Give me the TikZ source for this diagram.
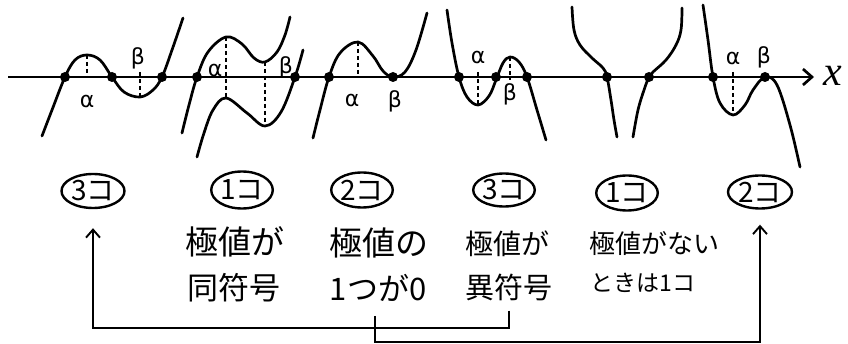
\documentclass[tikz,border=0pt]{standalone}
\usepackage{fontspec}
\newfontfamily\jp{Noto Sans CJK JP}
\newfontfamily\gk{DejaVu Sans}
\newfontfamily\xf{Liberation Serif}
\usetikzlibrary{arrows.meta,shapes.geometric}
\begin{document}
\begin{tikzpicture}[x=1pt,y=-1pt,
 curve/.style={line width=2.7pt, line cap=round, line join=round},
 dashln/.style={line width=1.8pt, dash pattern=on 4pt off 3pt},
 dot/.style={circle, fill=black, inner sep=0pt, minimum size=10pt},
 gl/.style={font=\gk\fontsize{22}{22}\selectfont, inner sep=0pt},
 cnt/.style={ellipse, draw, line width=2.4pt, inner sep=0pt, font=\jp\fontsize{28}{28}\selectfont},
 lbl/.style={font=\jp\fontsize{#1}{#1}\selectfont, inner sep=0pt},
 conn/.style={line width=1.9pt},
 arr/.style={conn, -{Straight Barb[length=8pt,width=14pt]}}]
\useasboundingbox (0,0) rectangle (848,344);

% axis
\coordinate (ax0) at (8,77);
\coordinate (ax1) at (814,77);
\draw[line width=2.7pt, -{Straight Barb[length=9pt,width=16pt]}] (ax0) -- (ax1);
\node[font=\xf\itshape\fontsize{42}{42}\selectfont, inner sep=0pt] (xl) at (833,76) {x};

% graph 1
\draw[curve] plot[smooth, tension=0.6] coordinates {(42,136) (52,110) (65,77) (75,60) (87,55) (100,60) (112,77) (124,92) (140,97) (153,90) (162,77) (172,50) (183,18)};
\draw[dashln] (87,55) -- (87,77);
\draw[dashln] (140,72) -- (140,97);
\node[gl] (a1) at (87,101) {α};
\node[gl] (b1) at (138,58) {β};

% graph 2
\draw[curve] plot[smooth, tension=0.6] coordinates {(182,133) (189,105) (197,77) (208,52) (226,37) (242,44) (254,58) (265,62) (277,52) (285,35) (290,17)};
\draw[curve] plot[smooth, tension=0.6] coordinates {(197,157) (204,133) (213,110) (226,98) (247,113) (265,126) (281,112) (295,77) (303,50)};
\draw[dashln] (226,37) -- (226,98);
\draw[dashln] (265,62) -- (265,126);
\node[gl] (a2) at (215,70) {α};
\node[gl] (b2) at (286,67) {β};

% graph 3
\draw[curve] plot[smooth, tension=0.6] coordinates {(313,138) (320,110) (329,77) (340,53) (358,42) (373,56) (383,71) (393,77) (405,72) (416,50) (427,13)};
\draw[dashln] (358,42) -- (358,77);
\node[gl] (a3) at (352,100) {α};
\node[gl] (b3) at (395,101) {β};

% graph 4
\draw[curve] plot[smooth, tension=0.6] coordinates {(447,10) (452,43) (459,77) (467,97) (478,105) (489,96) (496,80) (503,63) (510,57) (519,62) (527,77) (537,110) (546,140)};
\draw[dashln] (478,72) -- (478,105);
\draw[dashln] (510,57) -- (510,80);
\node[gl] (a4) at (478,57) {α};
\node[gl] (b4) at (510,94) {β};

% graph 5
\draw[curve] plot[smooth, tension=0.6] coordinates {(572,7) (574,30) (580,45) (592,58) (603,68) (607,77) (611,100) (614,120) (617,137)};
\draw[curve] plot[smooth, tension=0.6] coordinates {(682,8) (681,30) (676,45) (666,60) (653,72) (649,77) (644,90) (638,110) (633,137)};

% graph 6
\draw[curve] plot[smooth, tension=0.6] coordinates {(703,5) (708,40) (713,77) (720,103) (733,115) (745,105) (753,90) (765,77) (777,85) (790,125) (800,167)};
\draw[dashln] (733,72) -- (733,115);
\node[gl] (a6) at (733,58) {α};
\node[gl] (b6) at (764,57) {β};

% dots
\foreach \px in {65,112,162,197,295,329,393,459,496,527,607,649,713,765}
  \node[dot] at (\px,77) {};

% counts
\node[cnt, minimum width=63pt, minimum height=34pt] (c1) at (93,191) {3コ};
\node[cnt, minimum width=56pt, minimum height=37pt] (c2) at (242,190) {1コ};
\node[cnt, minimum width=60pt, minimum height=35pt] (c3) at (362,190) {2コ};
\node[cnt, minimum width=60pt, minimum height=33pt] (c4) at (504,190) {3コ};
\node[cnt, minimum width=55pt, minimum height=35pt] (c5) at (627,193) {1コ};
\node[cnt, minimum width=64pt, minimum height=33pt] (c6) at (760,192) {2コ};

% texts
\node[lbl=33] (t1a) at (235,242) {極値が};
\node[lbl=31] (t1b) at (234,288) {同符号};
\node[lbl=33] (t2a) at (379,243) {極値の};
\node[lbl=31] (t2b) at (378,288) {1つが0};
\node[lbl=28] (t3a) at (507,244) {極値が};
\node[lbl=29] (t3b) at (509,287) {異符号};
\node[lbl=26] (t4a) at (654,244) {極値がない};
\node[lbl=23] (t4b) at (643,283) {ときは1コ};

% connectors
\coordinate (k1) at (509,328);
\coordinate (k2) at (375,342);
\draw[arr, shorten >=19pt] ([yshift=-10pt]t3b.south) -- (t3b.south |- k1) -| (c1.south);
\draw[arr, shorten >=15pt] ([xshift=-3pt,yshift=-14pt]t2b.south) -- (k2) -| (c6.south);
\end{tikzpicture}
\end{document}
